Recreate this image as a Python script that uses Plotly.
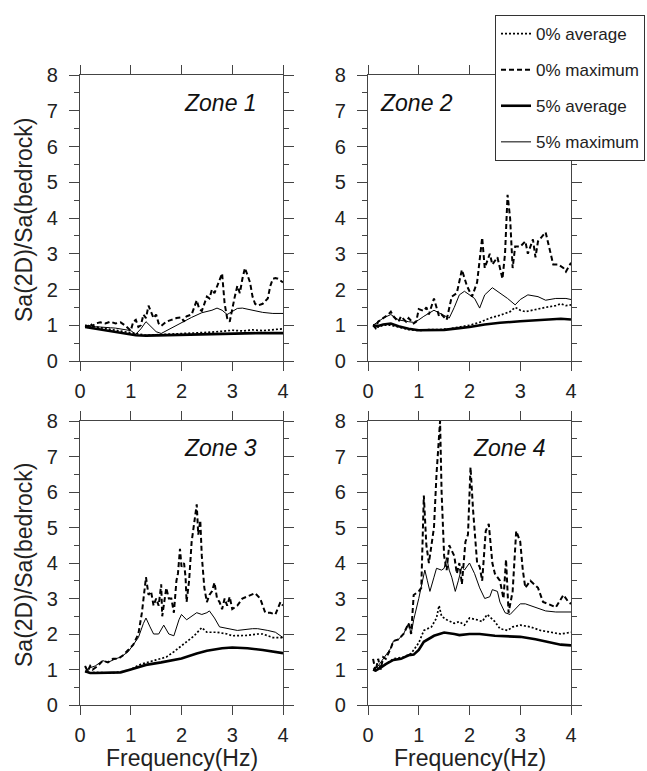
import plotly.graph_objects as go

# ---------------- Data ----------------
# Zone 1
z1_avg0_f = [0.1,0.3,0.5,0.7,0.9,1.1,1.3,1.6,2.0,2.3,2.5,2.8,3.0,3.2,3.4,3.6,3.8,4.0]
z1_avg0_v = [1.0,0.95,0.9,0.85,0.8,0.75,0.72,0.74,0.76,0.78,0.8,0.83,0.86,0.84,0.87,0.85,0.88,0.9]
z1_max0_f = [0.1,0.15,0.2,0.25,0.3,0.4,0.5,0.6,0.7,0.8,0.9,0.95,1.0,1.05,1.1,1.15,1.2,1.25,1.3,1.35,
             1.4,1.45,1.5,1.55,1.6,1.7,1.8,1.9,2.0,2.05,2.1,2.2,2.25,2.3,2.35,2.4,2.45,2.5,2.55,2.6,
             2.65,2.7,2.75,2.8,2.85,2.9,2.95,3.0,3.05,3.1,3.15,3.2,3.25,3.3,3.35,3.4,3.45,3.5,3.6,3.7,
             3.75,3.8,3.85,3.9,3.95,4.0]
z1_max0_v = [0.98,0.95,1.05,0.98,1.05,1.08,1.05,1.1,1.05,1.08,0.98,0.9,0.85,1.1,1.15,0.95,1.0,1.3,1.2,1.55,
             1.35,1.2,1.3,1.05,0.98,1.1,1.15,1.2,1.22,1.1,1.25,1.3,1.5,1.7,1.45,1.4,1.6,1.8,1.75,2.0,
             1.9,2.1,2.3,2.45,1.6,1.2,1.1,1.5,1.8,2.1,1.9,2.3,2.6,2.4,2.2,1.8,1.6,1.55,1.6,1.75,
             2.1,2.3,2.32,2.3,2.25,2.2]
z1_avg5_f = [0.1,0.3,0.5,0.7,0.9,1.1,1.3,1.6,2.0,2.5,3.0,3.5,4.0]
z1_avg5_v = [0.95,0.9,0.85,0.8,0.76,0.72,0.71,0.72,0.73,0.75,0.77,0.78,0.78]
z1_max5_f = [0.1,0.2,0.3,0.4,0.5,0.6,0.7,0.8,0.9,1.0,1.1,1.2,1.3,1.4,1.5,1.6,
             1.8,2.0,2.2,2.4,2.6,2.7,2.8,2.9,3.0,3.1,3.2,3.4,3.6,3.8,4.0]
z1_max5_v = [1.0,0.97,0.96,0.95,0.95,0.93,0.92,0.9,0.88,0.85,0.75,0.9,1.1,0.95,0.82,0.77,
             0.92,1.08,1.22,1.35,1.42,1.48,1.42,1.3,1.38,1.47,1.48,1.42,1.36,1.33,1.33]

# Zone 2
z2_avg0_f = [0.1,0.2,0.3,0.45,0.6,0.8,1.0,1.2,1.4,1.6,1.8,2.0,2.2,2.4,2.6,2.8,2.9,3.0,3.1,3.3,3.5,3.7,3.8,3.9,4.0]
z2_avg0_v = [1.0,0.95,1.0,1.0,0.95,0.88,0.85,0.88,0.88,0.9,0.95,1.0,1.08,1.2,1.28,1.38,1.5,1.42,1.38,1.45,1.5,1.55,1.6,1.55,1.57]
z2_max0_f = [0.1,0.15,0.2,0.3,0.4,0.45,0.5,0.6,0.65,0.75,0.8,0.9,0.95,1.0,1.1,1.15,1.2,1.3,1.4,1.45,
             1.55,1.65,1.75,1.85,1.95,2.05,2.15,2.25,2.3,2.4,2.45,2.55,2.65,2.7,2.75,2.8,2.85,2.9,3.0,3.1,
             3.15,3.25,3.3,3.35,3.45,3.5,3.55,3.65,3.75,3.85,3.9,4.0]
z2_max0_v = [1.0,0.92,1.1,1.2,1.3,1.38,1.25,1.1,1.25,1.1,1.2,1.05,1.1,1.45,1.4,1.5,1.3,1.75,1.25,1.3,
             1.15,1.8,1.9,2.55,2.1,1.8,2.2,3.45,2.6,3.0,2.7,2.9,2.3,3.0,4.65,4.0,2.6,3.2,3.2,3.35,
             3.0,3.4,2.9,3.35,3.5,3.6,3.3,2.7,2.7,2.6,2.5,2.75]
z2_avg5_f = [0.1,0.2,0.3,0.45,0.6,0.8,1.0,1.2,1.5,1.8,2.0,2.3,2.6,3.0,3.4,3.8,4.0]
z2_avg5_v = [1.0,0.98,1.02,1.05,0.97,0.9,0.86,0.86,0.87,0.92,0.95,1.02,1.07,1.11,1.14,1.18,1.16]
z2_max5_f = [0.1,0.2,0.3,0.45,0.6,0.8,0.9,1.0,1.1,1.3,1.45,1.6,1.7,1.8,1.9,2.0,2.1,2.2,2.3,2.45,
             2.6,2.75,2.9,3.0,3.15,3.35,3.5,3.7,3.9,4.0]
z2_max5_v = [1.0,1.1,1.2,1.3,1.15,1.1,1.08,1.15,1.25,1.42,1.3,1.2,1.5,1.85,1.95,1.85,1.75,1.48,1.85,2.05,
             1.9,1.75,1.57,1.72,1.85,1.8,1.7,1.75,1.75,1.72]

# Zone 3
z3_avg0_f = [0.1,0.2,0.3,0.45,0.6,0.8,1.0,1.1,1.2,1.5,1.7,1.85,2.0,2.1,2.25,2.4,2.5,2.7,2.9,3.0,3.3,3.5,3.6,3.8,4.0]
z3_avg0_v = [0.95,0.9,0.92,0.92,0.9,0.93,1.0,1.08,1.15,1.27,1.35,1.5,1.67,1.8,1.95,2.18,2.05,2.05,2.0,1.95,1.96,2.0,2.0,1.9,1.9]
z3_max0_f = [0.1,0.15,0.2,0.25,0.35,0.45,0.55,0.65,0.75,0.85,0.95,1.05,1.15,1.22,1.3,1.35,1.4,1.45,1.5,1.55,
             1.6,1.62,1.7,1.75,1.8,1.85,1.9,1.93,1.97,2.0,2.05,2.08,2.1,2.15,2.2,2.3,2.33,2.37,2.4,2.45,
             2.5,2.55,2.6,2.65,2.7,2.75,2.8,2.85,2.9,2.95,3.0,3.1,3.2,3.35,3.45,3.55,3.65,3.75,3.85,3.95,4.0]
z3_max0_v = [1.1,0.95,1.1,1.0,1.1,1.25,1.2,1.3,1.3,1.4,1.55,1.7,2.0,2.6,3.6,3.1,3.2,2.8,3.0,2.8,
             3.4,2.5,3.3,3.0,3.0,2.6,3.5,3.7,4.4,3.9,4.0,3.6,2.9,3.5,4.6,5.65,4.8,5.2,4.2,3.3,
             2.9,3.1,3.2,3.45,3.0,2.9,2.7,3.0,2.8,3.05,2.7,2.8,3.0,3.1,3.15,3.0,2.6,2.6,2.55,2.9,2.8]
z3_avg5_f = [0.1,0.2,0.3,0.45,0.6,0.8,1.0,1.1,1.3,1.6,2.0,2.3,2.5,2.8,3.0,3.3,3.6,4.0]
z3_avg5_v = [0.95,0.9,0.9,0.9,0.9,0.92,1.0,1.05,1.13,1.2,1.31,1.45,1.53,1.6,1.62,1.6,1.55,1.46]
z3_max5_f = [0.1,0.15,0.2,0.3,0.45,0.55,0.7,0.8,0.95,1.0,1.15,1.25,1.3,1.38,1.45,1.55,1.65,1.75,1.85,1.95,
             2.0,2.1,2.2,2.3,2.4,2.5,2.55,2.65,2.75,2.9,3.1,3.4,3.5,3.7,3.85,4.0]
z3_max5_v = [1.1,0.95,1.05,1.1,1.25,1.2,1.3,1.35,1.5,1.6,1.9,2.3,2.45,2.2,2.0,2.0,2.25,2.0,1.95,2.4,
             2.55,2.4,2.5,2.6,2.55,2.6,2.65,2.45,2.2,2.15,2.1,2.15,2.15,2.1,2.05,1.9]

# Zone 4
z4_avg0_f = [0.1,0.2,0.35,0.5,0.7,0.85,0.9,1.0,1.1,1.25,1.35,1.4,1.45,1.55,1.7,1.8,1.9,2.0,2.15,2.25,
             2.35,2.5,2.6,2.75,2.85,3.0,3.2,3.4,3.6,3.8,4.0]
z4_avg0_v = [1.0,1.05,1.15,1.3,1.35,1.45,1.55,1.75,2.1,2.2,2.45,2.8,2.5,2.4,2.3,2.35,2.25,2.45,2.4,2.35,
             2.55,2.35,2.15,2.1,2.2,2.25,2.2,2.1,2.05,2.0,2.05]
z4_max0_f = [0.1,0.15,0.2,0.25,0.3,0.35,0.45,0.5,0.6,0.7,0.8,0.85,0.9,1.0,1.05,1.1,1.15,1.2,1.25,1.3,
             1.35,1.42,1.45,1.5,1.55,1.6,1.7,1.75,1.8,1.85,1.92,1.97,2.02,2.07,2.15,2.2,2.25,2.32,2.38,2.45,
             2.5,2.6,2.67,2.7,2.72,2.77,2.85,2.92,3.0,3.05,3.1,3.2,3.35,3.45,3.55,3.7,3.85,3.95,4.0]
z4_max0_v = [1.3,0.95,1.3,1.0,1.35,1.3,1.6,1.8,1.85,2.0,2.3,2.0,3.1,3.2,3.3,5.9,4.5,4.0,4.5,5.0,
             6.5,8.0,6.0,4.2,3.8,4.5,4.2,3.7,4.0,3.4,4.6,4.8,6.7,5.5,4.0,3.9,3.5,4.9,5.1,4.0,
             3.7,3.5,3.0,3.8,4.1,2.6,3.2,4.9,4.6,3.8,3.3,3.5,3.3,2.9,2.85,2.75,3.1,2.9,2.85]
z4_avg5_f = [0.1,0.15,0.25,0.35,0.5,0.65,0.8,0.9,1.0,1.1,1.3,1.5,1.7,1.8,2.0,2.2,2.5,2.8,3.0,3.3,3.6,3.8,4.0]
z4_avg5_v = [1.0,0.97,1.05,1.15,1.27,1.3,1.4,1.42,1.55,1.78,1.95,2.04,2.0,1.97,2.0,2.0,1.95,1.93,1.92,1.85,1.75,1.7,1.68]
z4_max5_f = [0.1,0.2,0.3,0.45,0.5,0.6,0.7,0.8,0.85,0.9,1.0,1.07,1.12,1.17,1.22,1.3,1.35,1.45,1.5,1.55,
             1.6,1.65,1.72,1.78,1.85,1.9,2.0,2.1,2.2,2.3,2.4,2.45,2.55,2.6,2.7,2.8,2.9,3.0,3.1,3.3,
             3.5,3.7,4.0]
z4_max5_v = [1.0,1.1,1.3,1.6,1.8,1.85,2.0,2.3,2.0,2.4,3.0,3.5,3.8,3.5,3.2,3.6,3.85,3.8,3.85,4.15,
             3.8,3.6,3.2,3.5,3.9,3.8,4.0,3.7,3.3,3.0,3.05,3.25,3.2,2.9,2.6,2.55,2.7,2.85,2.85,2.75,
             2.65,2.62,2.62]

series_names = ["0% average", "0% maximum", "5% average", "5% maximum"]
zone_labels = ["Zone 1", "Zone 2", "Zone 3", "Zone 4"]
x_ticks = [0, 1, 2, 3, 4]
y_ticks = [0, 1, 2, 3, 4, 5, 6, 7, 8]

zones = [
    [(z1_avg0_f, z1_avg0_v), (z1_max0_f, z1_max0_v), (z1_avg5_f, z1_avg5_v), (z1_max5_f, z1_max5_v)],
    [(z2_avg0_f, z2_avg0_v), (z2_max0_f, z2_max0_v), (z2_avg5_f, z2_avg5_v), (z2_max5_f, z2_max5_v)],
    [(z3_avg0_f, z3_avg0_v), (z3_max0_f, z3_max0_v), (z3_avg5_f, z3_avg5_v), (z3_max5_f, z3_max5_v)],
    [(z4_avg0_f, z4_avg0_v), (z4_max0_f, z4_max0_v), (z4_avg5_f, z4_avg5_v), (z4_max5_f, z4_max5_v)],
]

# ---------------- Styling / layout ----------------
W, H = 647, 771
FONT = "Liberation Sans, Arial, sans-serif"
styles = [
    dict(width=1.7, dash="2px,2px"),   # 0% average (dotted)
    dict(width=2.0, dash="5px,3px"),   # 0% maximum (dashed)
    dict(width=2.6, dash="solid"),     # 5% average (thick)
    dict(width=1.0, dash="solid"),     # 5% maximum (thin)
]
# panel pixel boxes: (left, right, top, bottom)
boxes = [(80, 283, 75, 361), (368, 571, 75, 361), (80, 283, 421, 705), (368, 571, 421, 705)]

fig = go.Figure()
for zi, zone in enumerate(zones):
    xa = "x" if zi == 0 else f"x{zi+1}"
    ya = "y" if zi == 0 else f"y{zi+1}"
    for si, (f, v) in enumerate(zone):
        fig.add_trace(go.Scatter(
            x=f, y=v, mode="lines", xaxis=xa, yaxis=ya,
            name=series_names[si], legendgroup=series_names[si],
            showlegend=(zi == 0),
            line=dict(color="black", width=styles[si]["width"], dash=styles[si]["dash"]),
        ))

layout = dict(
    width=W, height=H, autosize=False,
    margin=dict(l=0, r=0, t=0, b=0),
    paper_bgcolor="white", plot_bgcolor="white",
    font=dict(family=FONT, color="#222"),
    showlegend=True,
    legend=dict(
        x=495 / W, y=1 - 15 / H, xanchor="left", yanchor="top",
        bgcolor="white", bordercolor="#333", borderwidth=1,
        font=dict(size=17, family=FONT, color="#222"),
        traceorder="grouped", tracegroupgap=11,
    ),
    annotations=[],
)

axis_common = dict(
    showline=True, linecolor="#444", linewidth=1.4, mirror="allticks",
    ticks="outside", tickcolor="#444", tickwidth=1.4,
    showgrid=False, zeroline=False, automargin=False,
    tickfont=dict(size=20, family=FONT, color="#222"),
)

for i, (l, r, t, b) in enumerate(boxes):
    xk = "xaxis" if i == 0 else f"xaxis{i+1}"
    yk = "yaxis" if i == 0 else f"yaxis{i+1}"
    xa = "x" if i == 0 else f"x{i+1}"
    ya = "y" if i == 0 else f"y{i+1}"
    layout[xk] = dict(axis_common, domain=[l / W, r / W], range=[0, 4], anchor=ya,
                      tickvals=x_ticks, ticklen=9, ticklabelstandoff=3)
    layout[yk] = dict(axis_common, domain=[1 - b / H, 1 - t / H], range=[0, 8], anchor=xa,
                      tickvals=y_ticks, ticklen=10, ticklabelstandoff=7,
                      minor=dict(dtick=0.5, ticklen=5, ticks="outside", tickcolor="#444", tickwidth=1.2))
    # zone label
    zpos = [(220, 103), (416, 103), (221, 448), (509, 448)][i]
    layout["annotations"].append(dict(
        text="<i>" + zone_labels[i] + "</i>", x=zpos[0] / W, y=1 - zpos[1] / H,
        xref="paper", yref="paper", showarrow=False, xanchor="center", yanchor="middle",
        font=dict(size=23, family=FONT, color="#111")))

# axis titles
for (cx, cy) in [(24, 220), (24, 565)]:
    layout["annotations"].append(dict(
        text="Sa(2D)/Sa(bedrock)", x=cx / W, y=1 - cy / H, xref="paper", yref="paper",
        showarrow=False, textangle=-90, xanchor="center", yanchor="middle",
        font=dict(size=23, family=FONT, color="#222")))
for (cx, cy) in [(182, 758), (470, 758)]:
    layout["annotations"].append(dict(
        text="Frequency(Hz)", x=cx / W, y=1 - cy / H, xref="paper", yref="paper",
        showarrow=False, xanchor="center", yanchor="middle",
        font=dict(size=23, family=FONT, color="#222")))

fig.update_layout(**layout)
fig.write_html("out.html")
